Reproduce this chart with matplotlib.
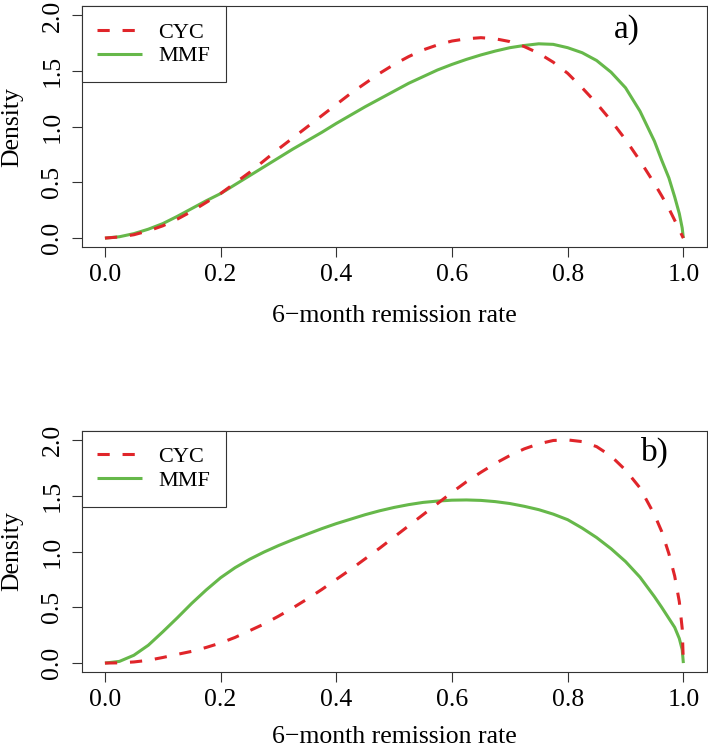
import matplotlib
matplotlib.use("Agg")
import matplotlib.pyplot as plt

# ---------------- data ----------------
x_grid = [0.0, 0.025, 0.05, 0.075, 0.1, 0.125, 0.15, 0.175, 0.2, 0.225,
          0.25, 0.275, 0.3, 0.325, 0.35, 0.375, 0.4, 0.425, 0.45, 0.475,
          0.5, 0.525, 0.55, 0.575, 0.6, 0.625, 0.65, 0.675, 0.7, 0.725,
          0.75, 0.775, 0.8, 0.825, 0.85, 0.875, 0.9, 0.925, 0.95,
          0.9625, 0.975, 0.985, 0.993, 0.998, 1.0]

# panel a)
cyc_a = [0.0, 0.01, 0.03, 0.065, 0.11, 0.17, 0.24, 0.32, 0.40, 0.495,
         0.59, 0.695, 0.80, 0.90, 1.00, 1.10, 1.20, 1.30, 1.39, 1.48,
         1.56, 1.63, 1.69, 1.735, 1.77, 1.79, 1.80, 1.79, 1.765, 1.72,
         1.66, 1.58, 1.48, 1.35, 1.21, 1.055, 0.885, 0.695, 0.49,
         0.38, 0.265, 0.16, 0.075, 0.02, 0.0]
mmf_a = [0.0, 0.012, 0.04, 0.08, 0.13, 0.195, 0.265, 0.335, 0.40, 0.48,
         0.56, 0.64, 0.72, 0.80, 0.875, 0.95, 1.03, 1.105, 1.18, 1.25,
         1.32, 1.39, 1.45, 1.51, 1.56, 1.605, 1.645, 1.68, 1.71, 1.73,
         1.745, 1.74, 1.71, 1.665, 1.595, 1.49, 1.35, 1.14, 0.87,
         0.70, 0.54, 0.37, 0.22, 0.09, 0.0]

# panel b)
cyc_b = [0.0, 0.002, 0.01, 0.025, 0.05, 0.078, 0.105, 0.14, 0.18, 0.23,
         0.29, 0.35, 0.42, 0.495, 0.575, 0.66, 0.75, 0.84, 0.935, 1.03,
         1.13, 1.23, 1.33, 1.43, 1.53, 1.625, 1.71, 1.79, 1.86, 1.92,
         1.965, 1.995, 2.00, 1.985, 1.94, 1.855, 1.73, 1.57, 1.33,
         1.18, 0.98, 0.78, 0.55, 0.31, 0.0]
mmf_b = [0.0, 0.015, 0.07, 0.16, 0.28, 0.405, 0.535, 0.655, 0.765, 0.855,
         0.93, 0.995, 1.053, 1.106, 1.156, 1.205, 1.25, 1.29, 1.33, 1.365,
         1.395, 1.42, 1.44, 1.452, 1.46, 1.462, 1.458, 1.447, 1.43, 1.405,
         1.375, 1.335, 1.285, 1.21, 1.125, 1.025, 0.91, 0.77, 0.595,
         0.50, 0.40, 0.32, 0.22, 0.12, 0.0]

series_labels = ["CYC", "MMF"]
panel_tags = ["a)", "b)"]
x_ticks = [0.0, 0.2, 0.4, 0.6, 0.8, 1.0]
y_ticks = [0.0, 0.5, 1.0, 1.5, 2.0]
x_label = "6\u2212month remission rate"
y_label = "Density"

# ---------------- style ----------------
plt.rcParams['font.family'] = ['Liberation Serif', 'DejaVu Serif']
RED = '#E0252A'
GREEN = '#66B84A'
FRAME = '#333333'
FS_TICK = 18.5
FS_LAB = 18.5
FS_LEG = 16
FS_TAG = 24

fig = plt.figure(figsize=(7.08, 7.49), dpi=100)
W, H = 708.0, 749.0

panels = [
    dict(cyc=cyc_a, mmf=mmf_a, top=6.5, bottom=247.0, tag=panel_tags[0],
         tagpos=(0.872, 0.905), xlab_y=-0.242),
    dict(cyc=cyc_b, mmf=mmf_b, top=431.0, bottom=672.0, tag=panel_tags[1],
         tagpos=(0.917, 0.91), xlab_y=-0.226),
]

left_px, right_px = 81.8, 706.5
for p in panels:
    ax = fig.add_axes([left_px / W, 1 - p['bottom'] / H,
                       (right_px - left_px) / W, (p['bottom'] - p['top']) / H])
    l_m, = ax.plot(x_grid, p['mmf'], color=GREEN, lw=2.2, solid_capstyle='butt',
                   solid_joinstyle='round', zorder=2)
    l_c, = ax.plot(x_grid, p['cyc'], color=RED, lw=2.2, dashes=(4, 4.2),
                   dash_capstyle='butt', dash_joinstyle='round', zorder=3)
    ax.set_xlim(-0.04, 1.04)
    ax.set_ylim(-0.08, 2.08)
    ax.set_xticks(x_ticks)
    ax.set_xticklabels([f"{v:.1f}" for v in x_ticks])
    ax.set_yticks(y_ticks)
    ax.set_yticklabels([f"{v:.1f}" for v in y_ticks], rotation=90, va='center')
    ax.tick_params(axis='both', direction='out', length=7.2, width=0.8,
                   color=FRAME, labelsize=FS_TICK, labelcolor='black')
    ax.tick_params(axis='x', pad=5)
    ax.tick_params(axis='y', pad=6)
    for s in ax.spines.values():
        s.set_color(FRAME)
        s.set_linewidth(0.8)
    ax.set_xlabel(x_label, fontsize=FS_LAB)
    ax.xaxis.set_label_coords(0.5, p['xlab_y'])
    ax.set_ylabel(y_label, fontsize=FS_LAB)
    ax.yaxis.set_label_coords(-0.094, 0.5)
    leg = ax.legend([l_c, l_m], series_labels, loc='upper left', bbox_to_anchor=(0, 1),
                    borderaxespad=0, fancybox=False, frameon=True, fontsize=FS_LEG,
                    handlelength=2.0, handletextpad=0.75, borderpad=0.7,
                    labelspacing=0.15)
    fr = leg.get_frame()
    fr.set_edgecolor(FRAME)
    fr.set_linewidth(0.8)
    fr.set_alpha(1)
    ax.text(p['tagpos'][0], p['tagpos'][1], p['tag'], transform=ax.transAxes,
            ha='center', va='center', fontsize=FS_TAG)

fig.savefig("out.png", dpi=100)
